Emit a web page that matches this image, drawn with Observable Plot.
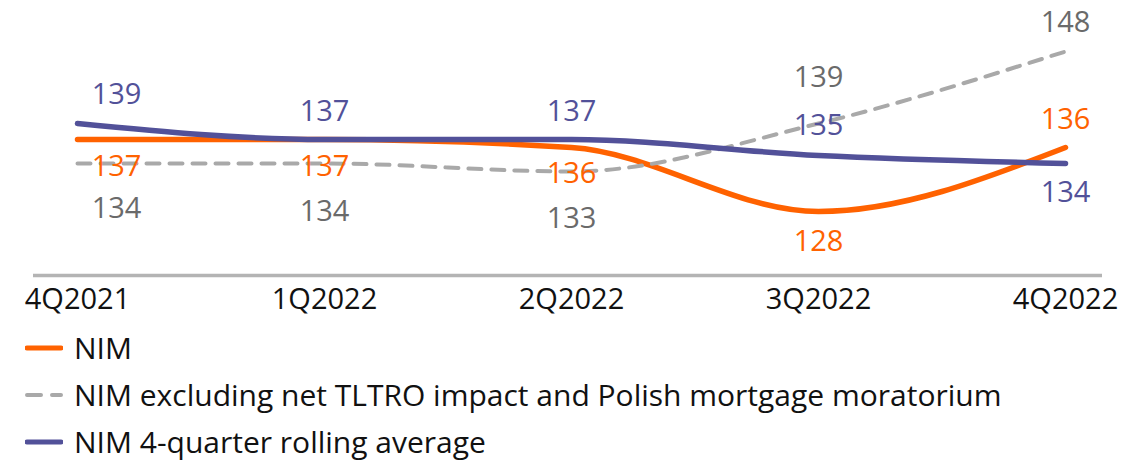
<!DOCTYPE html>
<html>
<head>
<meta charset="utf-8">
<script src="https://cdn.jsdelivr.net/npm/d3@7"></script>
<script src="https://cdn.jsdelivr.net/npm/@observablehq/plot@0.6"></script>
<style>
  html, body { margin: 0; padding: 0; background: #ffffff; }
  body { width: 1147px; height: 462px; overflow: hidden; font-family: "Open Sans", sans-serif; }
  #legend { margin: 0; padding: 4px 0 0 0; }
  .row { display: flex; align-items: center; height: 47px; }
  .row svg { margin-left: 25px; margin-right: 11px; }
  .row span { font-size: 30px; color: #111; line-height: 1; }
</style>
</head>
<body>
<div id="chart"></div>
<div id="legend"></div>
<script>
// ---- data ----
const quarters = ["4Q2021", "1Q2022", "2Q2022", "3Q2022", "4Q2022"];
const nim = [137, 137, 136, 128, 136];
const nimExcl = [134, 134, 133, 139, 148];
const nimAvg = [139, 137, 137, 135, 134];
const seriesNames = [
  "NIM",
  "NIM excluding net TLTRO impact and Polish mortgage moratorium",
  "NIM 4-quarter rolling average"
];

// ---- styling ----
const colors = { nim: "#FF6200", excl: "#A9A9A9", avg: "#525199" };
const labelColors = { nim: "#FF6200", excl: "#6A6A6A", avg: "#525199" };
// label placement (pixel offsets) per series and point
const labelDy = {
  nim:  [27, 27, 26, 30, -28],
  excl: [45, 48, 47, -46, -29],
  avg:  [-29, -28, -28, -30, 29]
};
const firstDx = 39;

const build = (key, vals) => quarters.map((q, i) => ({ q, v: vals[i], key, i }));
const rows = {
  nim: build("nim", nim),
  excl: build("excl", nimExcl),
  avg: build("avg", nimAvg)
};

const labelMarks = [];
for (const key of ["excl", "nim", "avg"]) {
  rows[key].forEach((d, i) => {
    labelMarks.push(Plot.text([d], {
      x: "q", y: "v", text: d => String(d.v),
      fill: labelColors[key], fontSize: 29,
      dy: labelDy[key][i], dx: i === 0 ? firstDx : 0
    }));
  });
}

const chart = Plot.plot({
  width: 1147,
  height: 320,
  marginLeft: 33,
  marginRight: 45,
  marginTop: 3,
  marginBottom: 45,
  style: { fontFamily: "Open Sans, sans-serif", fontSize: "29px", color: "#111", background: "#fff" },
  x: { type: "point", domain: quarters, padding: 0, insetLeft: 43, insetRight: 37, label: null },
  y: { domain: [120, 154], axis: null },
  marks: [
    Plot.ruleY([120], { stroke: "#B4B4B4", strokeWidth: 3.5 }),
    Plot.axisX({ tickSize: 0, tickPadding: 13, fill: "#111", fontSize: 29 }),
    Plot.line(rows.nim, { x: "q", y: "v", stroke: colors.nim, strokeWidth: 5.5, curve: "monotone-x" }),
    Plot.line(rows.excl, { x: "q", y: "v", stroke: colors.excl, strokeWidth: 4, strokeDasharray: "13,10", curve: "monotone-x" }),
    Plot.line(rows.avg, { x: "q", y: "v", stroke: colors.avg, strokeWidth: 5.5, curve: "monotone-x" }),
    ...labelMarks
  ]
});
document.getElementById("chart").appendChild(chart);

// ---- legend ----
const legend = document.getElementById("legend");
const legendStyles = [
  { stroke: colors.nim, dash: null, w: 5 },
  { stroke: colors.excl, dash: "14,11", w: 4 },
  { stroke: colors.avg, dash: null, w: 5 }
];
seriesNames.forEach((name, i) => {
  const s = legendStyles[i];
  const row = document.createElement("div");
  row.className = "row";
  row.innerHTML = `<svg width="38" height="10"><line x1="2" y1="5" x2="36" y2="5" stroke="${s.stroke}" stroke-width="${s.w}" stroke-linecap="round" ${s.dash ? `stroke-dasharray="${s.dash}"` : ""}/></svg><span>${name}</span>`;
  legend.appendChild(row);
});
</script>
</body>
</html>
